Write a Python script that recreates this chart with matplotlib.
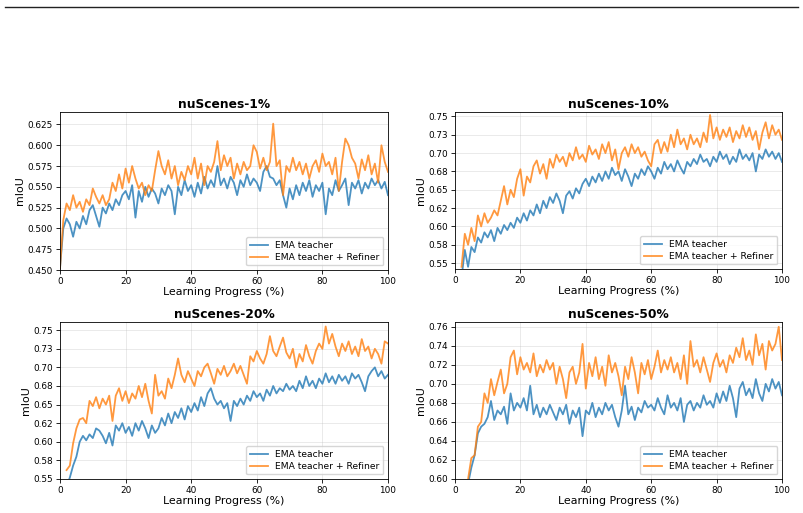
import numpy as np
import matplotlib
matplotlib.use("Agg")
import matplotlib.pyplot as plt
from matplotlib.lines import Line2D

titles = ["nuScenes-1%", "nuScenes-10%", "nuScenes-20%", "nuScenes-50%"]
series_names = ["EMA teacher", "EMA teacher + Refiner"]
x_label = "Learning Progress (%)"
y_label = "mIoU"

# x starts (percent) of each panel's series; points every 1 %
x_start = [0, 2, 2, 4]

ema_1 = [0.452, 0.500, 0.512, 0.505, 0.490, 0.508, 0.500, 0.515, 0.505, 0.522,
         0.528, 0.515, 0.502, 0.525, 0.518, 0.530, 0.522, 0.535, 0.528, 0.540,
         0.545, 0.535, 0.552, 0.513, 0.545, 0.532, 0.550, 0.538, 0.548, 0.542,
         0.530, 0.548, 0.540, 0.552, 0.545, 0.517, 0.550, 0.540, 0.558, 0.545,
         0.552, 0.538, 0.555, 0.542, 0.562, 0.548, 0.558, 0.550, 0.575, 0.552,
         0.560, 0.548, 0.562, 0.555, 0.540, 0.558, 0.550, 0.565, 0.552, 0.560,
         0.555, 0.545, 0.568, 0.575, 0.562, 0.560, 0.552, 0.558, 0.540, 0.525,
         0.548, 0.535, 0.552, 0.540, 0.555, 0.545, 0.558, 0.538, 0.552, 0.545,
         0.555, 0.517, 0.548, 0.540, 0.558, 0.545, 0.552, 0.560, 0.528, 0.555,
         0.548, 0.558, 0.542, 0.555, 0.548, 0.560, 0.552, 0.558, 0.548, 0.556,
         0.540]
ref_1 = [0.452, 0.510, 0.530, 0.522, 0.540, 0.525, 0.532, 0.520, 0.535, 0.528,
         0.548, 0.538, 0.530, 0.540, 0.528, 0.535, 0.555, 0.545, 0.565, 0.548,
         0.572, 0.555, 0.575, 0.560, 0.548, 0.555, 0.540, 0.552, 0.545, 0.570,
         0.593, 0.575, 0.565, 0.582, 0.560, 0.575, 0.552, 0.568, 0.558, 0.575,
         0.565, 0.585, 0.560, 0.578, 0.552, 0.575, 0.568, 0.580, 0.605, 0.570,
         0.588, 0.575, 0.585, 0.560, 0.578, 0.565, 0.580, 0.570, 0.575, 0.600,
         0.592, 0.572, 0.585, 0.570, 0.580, 0.626, 0.575, 0.582, 0.540, 0.575,
         0.568, 0.585, 0.570, 0.580, 0.565, 0.578, 0.560, 0.575, 0.582, 0.568,
         0.590, 0.575, 0.580, 0.565, 0.585, 0.545, 0.580, 0.608, 0.600, 0.585,
         0.578, 0.560, 0.583, 0.570, 0.588, 0.565, 0.578, 0.555, 0.600, 0.580,
         0.568]

ema_10 = [0.530, 0.568, 0.545, 0.572, 0.565, 0.585, 0.578, 0.592, 0.585, 0.595,
          0.580, 0.598, 0.590, 0.602, 0.595, 0.605, 0.598, 0.612, 0.605, 0.618,
          0.608, 0.622, 0.615, 0.630, 0.618, 0.635, 0.625, 0.640, 0.632, 0.645,
          0.635, 0.618, 0.642, 0.648, 0.638, 0.652, 0.645, 0.658, 0.665, 0.655,
          0.668, 0.660, 0.672, 0.662, 0.675, 0.665, 0.680, 0.670, 0.675, 0.662,
          0.678, 0.668, 0.655, 0.672, 0.665, 0.678, 0.670, 0.682, 0.675, 0.665,
          0.680, 0.672, 0.688, 0.678, 0.685, 0.675, 0.690, 0.680, 0.672, 0.688,
          0.682, 0.692, 0.685, 0.698, 0.688, 0.692, 0.682, 0.695, 0.688, 0.702,
          0.692, 0.698, 0.685, 0.695, 0.688, 0.705, 0.692, 0.698, 0.690, 0.700,
          0.675, 0.698, 0.692, 0.705, 0.695, 0.702, 0.692, 0.700, 0.688]
ref_10 = [0.545, 0.590, 0.575, 0.598, 0.580, 0.615, 0.600, 0.618, 0.605, 0.612,
          0.622, 0.615, 0.635, 0.655, 0.630, 0.650, 0.640, 0.665, 0.678, 0.642,
          0.668, 0.660, 0.682, 0.690, 0.672, 0.685, 0.665, 0.692, 0.680, 0.698,
          0.688, 0.695, 0.682, 0.700, 0.690, 0.708, 0.692, 0.698, 0.688, 0.710,
          0.698, 0.705, 0.692, 0.712, 0.700, 0.715, 0.690, 0.705, 0.678, 0.700,
          0.708, 0.695, 0.712, 0.700, 0.708, 0.695, 0.702, 0.690, 0.682, 0.712,
          0.718, 0.700, 0.715, 0.702, 0.725, 0.708, 0.732, 0.712, 0.720, 0.705,
          0.725, 0.712, 0.720, 0.708, 0.728, 0.715, 0.752, 0.720, 0.735, 0.718,
          0.732, 0.722, 0.735, 0.715, 0.730, 0.720, 0.738, 0.722, 0.735, 0.718,
          0.730, 0.705, 0.728, 0.742, 0.720, 0.738, 0.725, 0.732, 0.718]

ema_20 = [0.540, 0.552, 0.568, 0.580, 0.600, 0.608, 0.602, 0.610, 0.605, 0.618,
          0.615, 0.608, 0.598, 0.612, 0.595, 0.622, 0.615, 0.625, 0.612, 0.620,
          0.608, 0.625, 0.615, 0.628, 0.618, 0.605, 0.622, 0.612, 0.618, 0.632,
          0.622, 0.638, 0.625, 0.640, 0.632, 0.645, 0.630, 0.648, 0.640, 0.652,
          0.642, 0.660, 0.648, 0.665, 0.672, 0.658, 0.650, 0.655, 0.645, 0.652,
          0.628, 0.655, 0.648, 0.658, 0.650, 0.662, 0.655, 0.668, 0.660, 0.665,
          0.655, 0.670, 0.662, 0.675, 0.665, 0.672, 0.668, 0.678, 0.670, 0.675,
          0.668, 0.682, 0.672, 0.688, 0.675, 0.682, 0.672, 0.685, 0.678, 0.692,
          0.680, 0.688, 0.678, 0.690, 0.682, 0.688, 0.678, 0.692, 0.685, 0.690,
          0.680, 0.668, 0.688, 0.695, 0.700, 0.688, 0.695, 0.685, 0.690]
ref_20 = [0.562, 0.568, 0.598, 0.618, 0.630, 0.632, 0.625, 0.655, 0.648, 0.660,
          0.645, 0.658, 0.650, 0.662, 0.628, 0.662, 0.672, 0.655, 0.668, 0.652,
          0.665, 0.658, 0.675, 0.660, 0.678, 0.655, 0.638, 0.690, 0.662, 0.668,
          0.658, 0.685, 0.672, 0.690, 0.712, 0.690, 0.680, 0.695, 0.685, 0.675,
          0.695, 0.688, 0.700, 0.705, 0.692, 0.678, 0.698, 0.690, 0.702, 0.688,
          0.695, 0.705, 0.692, 0.702, 0.690, 0.678, 0.715, 0.708, 0.722, 0.712,
          0.705, 0.718, 0.742, 0.722, 0.715, 0.728, 0.740, 0.720, 0.712, 0.725,
          0.700, 0.718, 0.708, 0.730, 0.715, 0.705, 0.722, 0.732, 0.725, 0.755,
          0.732, 0.745, 0.728, 0.715, 0.732, 0.722, 0.735, 0.718, 0.728, 0.715,
          0.738, 0.722, 0.728, 0.712, 0.725, 0.718, 0.705, 0.735, 0.732]

ema_50 = [0.595, 0.612, 0.625, 0.648, 0.655, 0.658, 0.665, 0.682, 0.662, 0.672,
          0.668, 0.676, 0.658, 0.690, 0.672, 0.680, 0.675, 0.685, 0.672, 0.698,
          0.668, 0.678, 0.665, 0.675, 0.668, 0.678, 0.670, 0.662, 0.675, 0.668,
          0.678, 0.658, 0.672, 0.665, 0.675, 0.645, 0.672, 0.668, 0.680, 0.665,
          0.675, 0.668, 0.680, 0.672, 0.678, 0.665, 0.655, 0.672, 0.698, 0.668,
          0.676, 0.662, 0.675, 0.670, 0.682, 0.675, 0.678, 0.672, 0.685, 0.675,
          0.668, 0.688, 0.675, 0.680, 0.672, 0.685, 0.660, 0.678, 0.682, 0.672,
          0.680, 0.675, 0.688, 0.678, 0.682, 0.675, 0.690, 0.680, 0.692, 0.682,
          0.698, 0.685, 0.665, 0.695, 0.702, 0.688, 0.695, 0.685, 0.705, 0.690,
          0.682, 0.700, 0.692, 0.705, 0.695, 0.702, 0.688]
ref_50 = [0.600, 0.622, 0.625, 0.655, 0.660, 0.690, 0.680, 0.705, 0.688, 0.702,
          0.715, 0.690, 0.700, 0.728, 0.735, 0.710, 0.728, 0.715, 0.722, 0.712,
          0.732, 0.708, 0.720, 0.712, 0.725, 0.715, 0.722, 0.700, 0.718, 0.705,
          0.685, 0.712, 0.718, 0.700, 0.712, 0.742, 0.695, 0.722, 0.708, 0.728,
          0.705, 0.718, 0.698, 0.730, 0.712, 0.722, 0.708, 0.688, 0.718, 0.705,
          0.728, 0.712, 0.690, 0.722, 0.710, 0.725, 0.705, 0.718, 0.735, 0.712,
          0.725, 0.715, 0.728, 0.712, 0.722, 0.705, 0.730, 0.700, 0.745, 0.718,
          0.725, 0.712, 0.728, 0.715, 0.702, 0.722, 0.732, 0.718, 0.725, 0.712,
          0.730, 0.722, 0.738, 0.728, 0.748, 0.725, 0.735, 0.720, 0.752, 0.730,
          0.742, 0.715, 0.745, 0.735, 0.742, 0.760, 0.725]

ema_series = [ema_1, ema_10, ema_20, ema_50]
ref_series = [ref_1, ref_10, ref_20, ref_50]

y_limits = [(0.45, 0.64), (0.542, 0.756), (0.55, 0.761), (0.60, 0.765)]
y_ticks = [
    [0.450, 0.475, 0.500, 0.525, 0.550, 0.575, 0.600, 0.625],
    [0.550, 0.575, 0.600, 0.625, 0.650, 0.675, 0.700, 0.725, 0.750],
    [0.550, 0.575, 0.600, 0.625, 0.650, 0.675, 0.700, 0.725, 0.750],
    [0.60, 0.62, 0.64, 0.66, 0.68, 0.70, 0.72, 0.74, 0.76],
]
y_tick_labels = [
    ["0.450", "0.475", "0.500", "0.525", "0.550", "0.575", "0.600", "0.625"],
    ["0.55", "0.58", "0.60", "0.62", "0.65", "0.68", "0.70", "0.73", "0.75"],
    ["0.55", "0.58", "0.60", "0.62", "0.65", "0.68", "0.70", "0.73", "0.75"],
    ["0.60", "0.62", "0.64", "0.66", "0.68", "0.70", "0.72", "0.74", "0.76"],
]
x_ticks = [0, 20, 40, 60, 80, 100]

W, H = 804, 513
fig = plt.figure(figsize=(W / 100, H / 100), dpi=100)

# axes rectangles in pixels: left, top, right, bottom
rects = [(60, 112, 388, 270), (455, 112, 782, 269),
         (60, 322, 388, 479), (455, 322, 782, 479)]

blue = "#1f77b4"
orange = "#ff7f0e"

for i in range(4):
    l, t, r, b = rects[i]
    ax = fig.add_axes([l / W, 1 - b / H, (r - l) / W, (b - t) / H])
    n = len(ema_series[i])
    x = np.arange(n) + x_start[i]
    ax.plot(x, ema_series[i], color=blue, alpha=0.8, lw=1.3, label=series_names[0])
    ax.plot(x, ref_series[i], color=orange, alpha=0.8, lw=1.3, label=series_names[1])
    ax.set_xlim(0, 100)
    ax.set_ylim(*y_limits[i])
    ax.set_xticks(x_ticks)
    ax.set_yticks(y_ticks[i])
    ax.set_yticklabels(y_tick_labels[i])
    ax.tick_params(labelsize=6.4, length=3, width=0.6, pad=2)
    ax.grid(True, alpha=0.3, lw=0.6)
    ax.set_title(titles[i], fontsize=8.8, fontweight="bold", pad=3)
    ax.set_xlabel(x_label, fontsize=7.9, labelpad=1)
    ax.set_ylabel(y_label, fontsize=7.9, labelpad=2)
    for s in ax.spines.values():
        s.set_linewidth(0.6)
    ax.legend(loc="lower right", fontsize=6.6, framealpha=0.8, handlelength=2.0,
              borderpad=0.4, labelspacing=0.3)

# horizontal rule at the top of the page
fig.add_artist(Line2D([5 / W, 798 / W], [1 - 7 / H, 1 - 7 / H], color="#222222", lw=1.0))

fig.savefig("out.png", dpi=100)
